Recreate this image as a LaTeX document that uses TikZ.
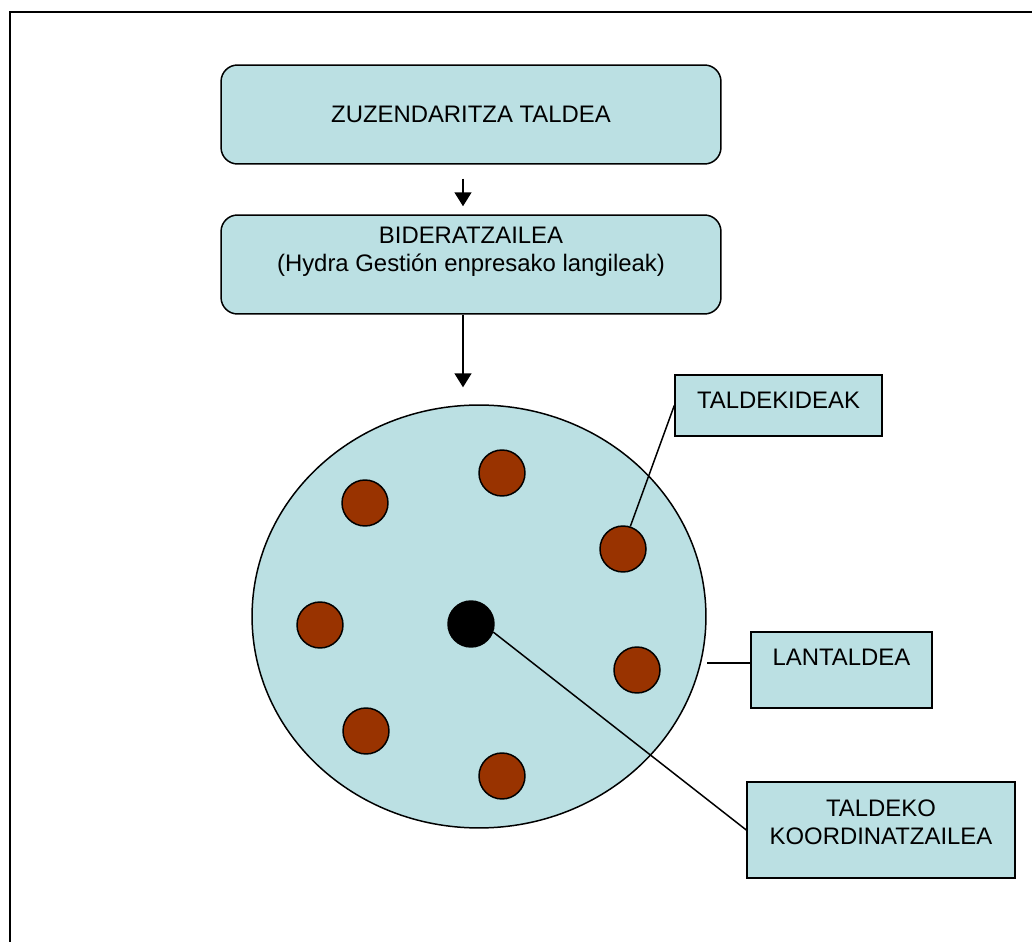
\documentclass[tikz,border=0pt]{standalone}
\usepackage{fontspec}
\setmainfont{Liberation Sans}
\usetikzlibrary{shapes.geometric,arrows.meta}
\definecolor{lightteal}{HTML}{BBE0E3}
\definecolor{rust}{HTML}{993300}
\begin{document}
\begin{tikzpicture}[x=0.02cm, y=-0.02cm, font=\fontsize{13.6}{16}\selectfont]
        \tikzstyle{roundbox} = [rectangle, rounded corners=0.33cm, draw, line width=0.85pt, fill=lightteal, minimum width=10cm, minimum height=1.98cm, align=center, inner sep=0pt]
        \tikzstyle{tagbox} = [rectangle, draw, line width=0.85pt, fill=lightteal, align=center, inner sep=0pt]
        \tikzstyle{member} = [circle, draw, line width=0.85pt, fill=rust, minimum size=0.92cm, inner sep=0pt]
        \tikzstyle{arr} = [line width=0.85pt, -{Triangle[width=0.34cm, length=0.28cm]}]

        \useasboundingbox (0,0) rectangle (1032,942);
        \draw[line width=1.1pt] (1032,12) -- (10,12) -- (10,942);

        \node[roundbox] (zuzen) at (471,114.5) {ZUZENDARITZA TALDEA};
        \node[roundbox, text depth=0.62cm] (bider) at (471,264.5) {BIDERATZAILEA\\(Hydra Gestión enpresako langileak)};

        \draw[arr] ([xshift=-0.16cm, yshift=-0.28cm]zuzen.south) -- ([xshift=-0.16cm, yshift=0.16cm]bider.north);

        \node[ellipse, draw, line width=0.85pt, fill=lightteal, minimum width=9.08cm, minimum height=8.46cm, inner sep=0pt] (lantalde) at (479,616.5) {};

        \coordinate (arrtop) at ([yshift=0.34cm]lantalde.north);
        \draw[arr] ([xshift=-0.16cm]bider.south) -- ([xshift=-0.16cm]bider.south |- arrtop);

        \foreach \i/\x/\y in {1/365/503, 2/502/473, 3/623/549, 4/320/625, 5/637/670, 6/366/731, 7/502/776} {
            \node[member] (kide\i) at (\x,\y) {};
        }
        \node[member, fill=black] (koord) at (471,624) {};

        \node[tagbox, minimum width=4.14cm, minimum height=1.22cm, text depth=0.22cm] (kidebox) at (778.5,405.5) {TALDEKIDEAK};
        \node[tagbox, minimum width=3.62cm, minimum height=1.52cm, text depth=0.52cm] (lanbox) at (841.5,670) {LANTALDEA};
        \node[tagbox, minimum width=5.36cm, minimum height=1.92cm, text depth=0.32cm] (koordbox) at (881,830) {TALDEKO\\KOORDINATZAILEA};

        \draw[line width=0.85pt] (kide3.72) -- (kidebox.west);
        \coordinate (lanpt) at ([yshift=0.14cm]lanbox.west);
        \draw[line width=0.85pt] (lanpt) -- (lanpt -| lantalde.east);
        \draw[line width=0.85pt] (koord.-20) -- (koordbox.west);
    \end{tikzpicture}
\end{document}
